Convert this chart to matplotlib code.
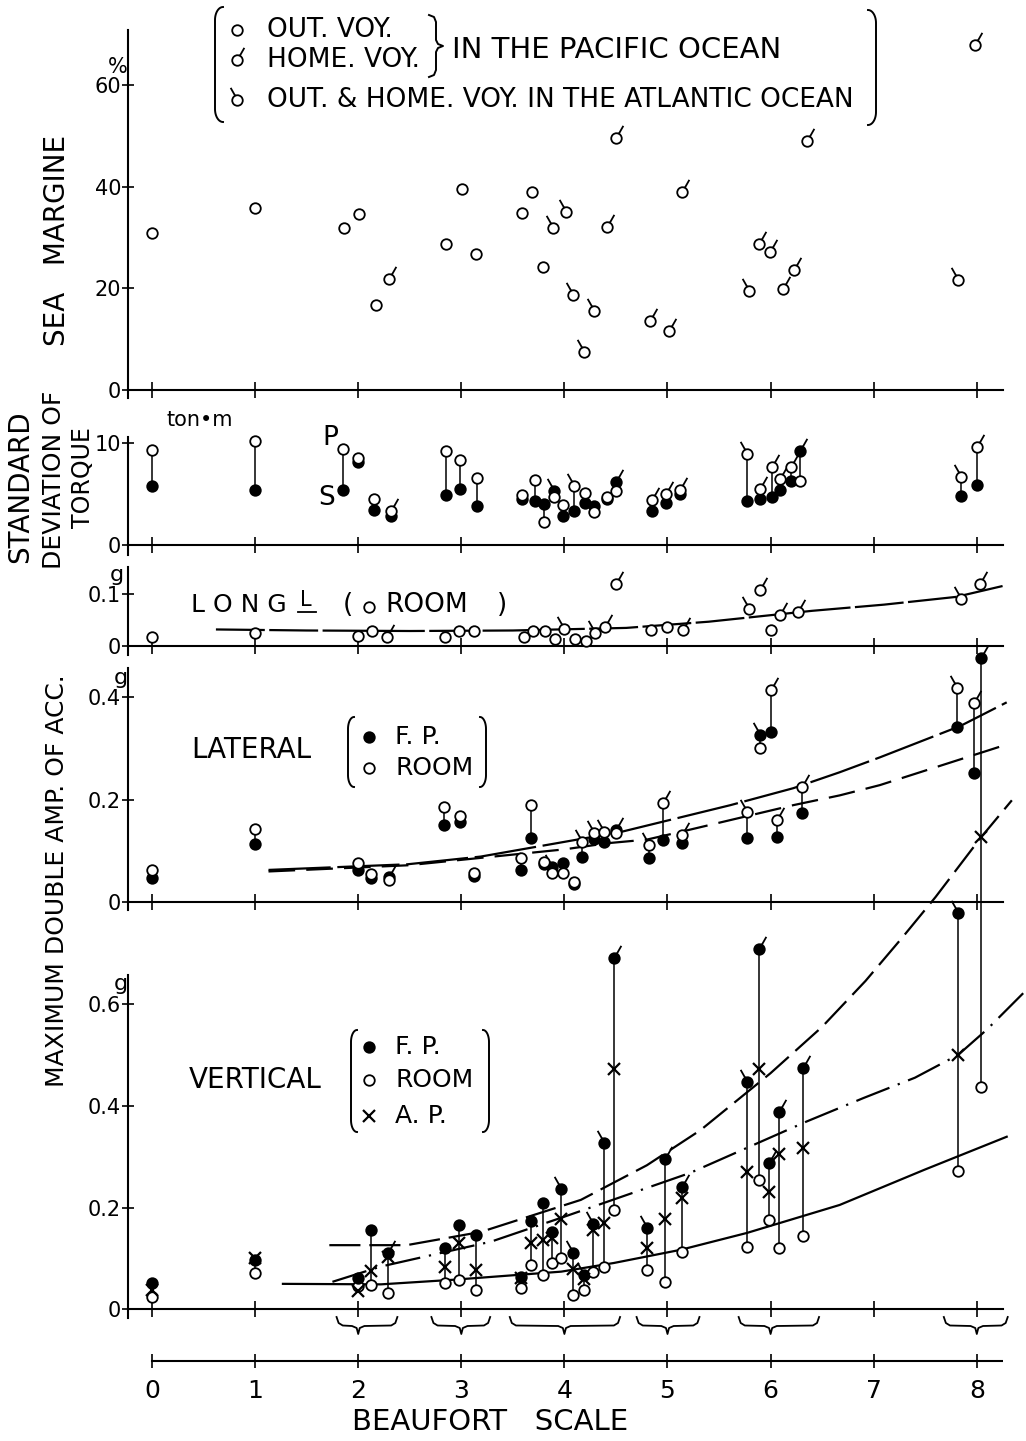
import numpy as np
import matplotlib
matplotlib.use("Agg")
import matplotlib.pyplot as plt
from matplotlib.path import Path

plt.rcParams["font.family"] = ["DejaVu Sans"]

# ---------------- data ----------------
beaufort_ticks = list(range(9))

# sea margin (%) ; o = outward (Pacific), h = homeward (Pacific), a = Atlantic
sm_beaufort = [0.00, 1.00, 1.86, 2.01, 2.17, 2.30, 2.85, 3.01, 3.14, 3.59,
               3.69, 3.79, 3.89, 4.02, 4.08, 4.19, 4.29, 4.41, 4.50, 4.83,
               5.01, 5.14, 5.79, 5.89, 5.99, 6.12, 6.23, 6.35, 7.82, 7.98]
sm_margin = [30.8, 35.9, 31.9, 34.6, 16.7, 21.9, 28.7, 39.6, 26.8, 34.8,
             39.0, 24.1, 31.9, 35.0, 18.7, 7.5, 15.5, 32.1, 49.5, 13.6,
             11.7, 38.9, 19.5, 28.7, 27.1, 19.8, 23.6, 49.0, 21.7, 67.9]
sm_voyage = list("ooooohooooooaaaaahhhhhahhhhhah")

# standard deviation of torque (ton.m), port (P) / starboard (S)
tq_beaufort = [0.00, 1.00, 1.85, 2.00, 2.15, 2.32, 2.85, 2.99, 3.15, 3.59,
               3.71, 3.80, 3.90, 3.99, 4.09, 4.20, 4.29, 4.41, 4.50, 4.85,
               4.99, 5.12, 5.77, 5.90, 6.01, 6.09, 6.20, 6.29, 7.85, 8.00]
tq_port = [9.35, 10.2, 9.45, 8.5, 4.55, 3.3, 9.2, 8.3, 6.6, 4.9,
           6.4, 2.25, 4.7, 3.9, 5.8, 5.1, 3.2, 4.7, 5.3, 4.4,
           5.0, 5.4, 8.9, 5.5, 7.6, 6.5, 7.6, 6.3, 6.7, 9.6]
tq_stbd = [5.77, 5.4, 5.4, 8.1, 3.45, 2.8, 4.95, 5.5, 3.8, 4.5,
           4.3, 4.0, 5.3, 2.8, 3.3, 4.1, 3.8, 4.5, 6.2, 3.3,
           4.1, 5.0, 4.3, 4.5, 4.7, 5.4, 6.3, 9.2, 4.8, 5.9]
tq_voyage = list("ooooohooooooaoaooohhhhahhhhhah")

# longitudinal acceleration in the room (g)
lg_beaufort = [0.00, 1.00, 2.00, 2.13, 2.28, 2.84, 2.98, 3.12, 3.61, 3.70,
               3.81, 3.91, 4.00, 4.10, 4.21, 4.30, 4.39, 4.50, 4.84, 5.00,
               5.15, 5.79, 5.90, 6.00, 6.09, 6.27, 7.85, 8.03]
lg_room = [0.017, 0.026, 0.019, 0.029, 0.018, 0.017, 0.029, 0.029, 0.017, 0.029,
           0.029, 0.013, 0.033, 0.014, 0.010, 0.025, 0.037, 0.120, 0.031, 0.037,
           0.031, 0.071, 0.108, 0.031, 0.059, 0.066, 0.090, 0.119]
lg_voyage = list("oooohooooooo" + "aooahhoohahohhah")
lg_trend_b = [0.62, 1.50, 2.50, 3.50, 4.60, 5.40, 6.40, 7.10, 7.80, 8.25]
lg_trend_v = [0.032, 0.030, 0.029, 0.030, 0.035, 0.047, 0.068, 0.080, 0.095, 0.116]

# lateral acceleration (g), fore peak / room
lt_beaufort = [0.00, 1.00, 2.00, 2.12, 2.30, 2.83, 2.99, 3.12, 3.58, 3.68,
               3.80, 3.88, 3.99, 4.09, 4.17, 4.29, 4.38, 4.50, 4.82, 4.96,
               5.14, 5.77, 5.90, 6.00, 6.06, 6.30, 7.81, 7.97]
lt_fp = [0.047, 0.113, 0.063, 0.048, 0.050, 0.150, 0.157, 0.052, 0.063, 0.125,
         0.074, 0.069, 0.076, 0.035, 0.088, 0.123, 0.118, 0.141, 0.086, 0.121,
         0.115, 0.125, 0.326, 0.332, 0.128, 0.173, 0.342, 0.251]
lt_room = [0.063, 0.142, 0.077, 0.055, 0.043, 0.186, 0.167, 0.057, 0.086, 0.189,
           0.078, 0.057, 0.057, 0.040, 0.118, 0.135, 0.137, 0.135, 0.111, 0.193,
           0.131, 0.176, 0.301, 0.414, 0.161, 0.225, 0.416, 0.387]
lt_voyage = list("oooohoooooo" + "aooaaahahhaahhhah")
lt_upper_b = [1.13, 2.48, 3.19, 4.04, 4.55, 5.61, 6.22, 6.67, 7.06, 7.84, 8.29]
lt_upper_v = [0.063, 0.074, 0.089, 0.119, 0.137, 0.189, 0.222, 0.253, 0.282, 0.343, 0.389]
lt_lower_b = [1.13, 2.48, 4.00, 4.42, 4.80, 5.19, 6.22, 6.67, 7.06, 8.29]
lt_lower_v = [0.060, 0.072, 0.103, 0.115, 0.122, 0.140, 0.189, 0.208, 0.228, 0.307]

# vertical acceleration (g), fore peak / aft peak / room
vt_beaufort = [0.00, 1.00, 2.00, 2.12, 2.29, 2.84, 2.98, 3.14, 3.58, 3.68,
               3.79, 3.88, 3.97, 4.08, 4.19, 4.28, 4.38, 4.48, 4.80, 4.98,
               5.14, 5.77, 5.89, 5.98, 6.08, 6.31, 7.82, 8.04]
vt_fp = [0.052, 0.097, 0.062, 0.156, 0.110, 0.120, 0.166, 0.146, 0.064, 0.174,
         0.208, 0.152, 0.236, 0.111, 0.067, 0.168, 0.326, 0.690, 0.159, 0.295,
         0.241, 0.447, 0.707, 0.288, 0.388, 0.475, 0.778, 1.279]
vt_ap = [0.038, 0.100, 0.035, 0.076, 0.103, 0.084, 0.131, 0.077, 0.062, 0.131,
         0.136, 0.140, 0.177, 0.079, 0.060, 0.156, 0.169, 0.473, 0.120, 0.177,
         0.218, 0.270, 0.473, 0.231, 0.306, 0.316, 0.500, 0.927]
vt_room = [0.025, 0.071, 0.045, 0.048, 0.033, 0.052, 0.058, 0.038, 0.041, 0.088,
           0.067, 0.090, 0.100, 0.028, 0.037, 0.074, 0.084, 0.195, 0.077, 0.054,
           0.113, 0.122, 0.254, 0.175, 0.120, 0.144, 0.272, 0.437]
vt_voyage = list("oooohooooooo" + "aaaaahahhahhhhah")
vt_fp_trend_b = [1.72, 2.47, 3.19, 4.16, 4.80, 5.32, 6.00, 6.50, 6.92, 7.28, 7.60, 8.04, 8.34]
vt_fp_trend_v = [0.126, 0.126, 0.152, 0.215, 0.283, 0.352, 0.464, 0.555, 0.645, 0.731, 0.810, 0.927, 1.000]
vt_ap_trend_b = [1.75, 2.22, 3.29, 4.00, 5.22, 6.35, 6.90, 7.40, 7.82, 8.10, 8.45]
vt_ap_trend_v = [0.054, 0.084, 0.133, 0.182, 0.268, 0.369, 0.415, 0.455, 0.500, 0.550, 0.621]
vt_room_trend_b = [1.27, 2.22, 2.92, 3.97, 4.48, 5.13, 5.77, 6.67, 7.49, 8.29]
vt_room_trend_v = [0.050, 0.049, 0.058, 0.074, 0.091, 0.117, 0.150, 0.205, 0.274, 0.339]

# groups of Beaufort ranges marked with braces under the chart
group_spans = [(1.79, 2.38), (2.71, 3.28), (3.47, 4.54), (4.70, 5.31), (5.69, 6.47), (7.68, 8.30)]
group_centres = [2, 3, 4, 5, 6, 8]

# ---------------- layout ----------------
W, H = 1026, 1441
LEFT_PX, RIGHT_PX = 128, 1003
B0_PX, B_STEP = 152, 103.1
XLIM = ((LEFT_PX - B0_PX) / B_STEP, (RIGHT_PX - B0_PX) / B_STEP)

fig = plt.figure(figsize=(W / 100, H / 100), dpi=100)

# full-figure overlay in pixel units for labels and legend brackets
ov = fig.add_axes([0, 0, 1, 1])
ov.set_xlim(0, W)
ov.set_ylim(H, 0)
ov.axis("off")


def add_panel(top, bottom, zero, scale, yticks, ylabels):
    ax = fig.add_axes([LEFT_PX / W, 1 - bottom / H, (RIGHT_PX - LEFT_PX) / W, (bottom - top) / H])
    ax.set_xlim(XLIM)
    ax.set_ylim((zero - bottom) / scale, (zero - top) / scale)
    ax.patch.set_visible(False)
    for s in ("top", "right"):
        ax.spines[s].set_visible(False)
    ax.spines["bottom"].set_position(("data", 0))
    for s in ("left", "bottom"):
        ax.spines[s].set_linewidth(1.5)
    ax.set_xticks(beaufort_ticks)
    ax.tick_params(axis="x", direction="inout", length=11, width=1.2, labelbottom=False)
    ax.set_yticks(yticks)
    ax.set_yticklabels(ylabels)
    ax.tick_params(axis="y", direction="inout", length=8, width=1.2, labelsize=15, pad=1)
    return ax


def tail_marker(direction):
    tail = Path([(0.45 * direction, 0.9), (1.3 * direction, 2.4)], [Path.MOVETO, Path.LINETO])
    return Path.make_compound_path(Path.unit_circle(), tail)


MARKERS = {"o": ("o", 7.6), "h": (tail_marker(1), 18.2), "a": (tail_marker(-1), 18.2)}


def draw_point(ax, x, y, kind, filled, z=4):
    marker, size = MARKERS[kind]
    ax.plot([x], [y], ls="none", marker=marker, ms=size, mfc="black" if filled else "white",
            mec="black", mew=1.3, clip_on=False, zorder=z)


def draw_pairs(ax, xs, open_vals, filled_vals, kinds):
    for x, o, f, k in zip(xs, open_vals, filled_vals, kinds):
        ax.vlines(x, min(o, f), max(o, f), color="black", lw=1.1, zorder=2, clip_on=False)
        draw_point(ax, x, f, k if f >= o else "o", True)
        draw_point(ax, x, o, k if o > f else "o", False, z=5)


def paren(x, y0, y1, side, rx=8, ry=13):
    t = np.linspace(np.pi / 2, np.pi, 15)
    top_x = x + side * (rx + rx * np.cos(t))
    top_y = y0 + ry - ry * np.sin(t)
    bot_x = top_x[::-1]
    bot_y = y1 - ry + ry * np.sin(t[::-1])
    ov.plot(np.r_[top_x, bot_x], np.r_[top_y, bot_y], color="black", lw=1.4)


def curly(x, y0, y1, w=14):
    ym = (y0 + y1) / 2
    xs = [x, x + 5, x + 7, x + 7, x + 9, x + w, x + 9, x + 7, x + 7, x + 5, x]
    ys = [y0, y0 + 2, y0 + 7, ym - 6, ym - 2, ym, ym + 2, ym + 6, y1 - 7, y1 - 2, y1]
    ov.plot(xs, ys, color="black", lw=1.4)


# ---------------- sea margin ----------------
ax_sm = add_panel(30, 398, 390, 5.083, [0, 20, 40, 60], ["0", "20", "40", "60"])
for b, v, k in zip(sm_beaufort, sm_margin, sm_voyage):
    draw_point(ax_sm, b, v, k, False)

# ---------------- torque ----------------
ax_tq = add_panel(437, 555, 545, 10.2, [0, 10], ["0", "10"])
draw_pairs(ax_tq, tq_beaufort, tq_port, tq_stbd, tq_voyage)

# ---------------- longitudinal ----------------
ax_lg = add_panel(567, 655, 646, 517, [0, 0.1], ["0", "0.1"])
ax_lg.plot(lg_trend_b, lg_trend_v, color="black", lw=1.6, ls=(0, (22, 2)), zorder=1, clip_on=False)
for b, v, k in zip(lg_beaufort, lg_room, lg_voyage):
    draw_point(ax_lg, b, v, k, False)

# ---------------- lateral ----------------
ax_lt = add_panel(668, 910, 902.3, 514, [0, 0.2, 0.4], ["0", "0.2", "0.4"])
ax_lt.plot(lt_upper_b, lt_upper_v, color="black", lw=1.6, ls=(0, (28, 3)), zorder=1, clip_on=False)
ax_lt.plot(lt_lower_b, lt_lower_v, color="black", lw=1.6, ls=(0, (12, 5)), zorder=1, clip_on=False)
draw_pairs(ax_lt, lt_beaufort, lt_room, lt_fp, lt_voyage)

# ---------------- vertical ----------------
ax_vt = add_panel(975, 1318, 1309.3, 509, [0, 0.2, 0.4, 0.6], ["0", "0.2", "0.4", "0.6"])
ax_vt.plot(vt_fp_trend_b, vt_fp_trend_v, color="black", lw=1.6, ls=(0, (14, 4)), zorder=1, clip_on=False)
ax_vt.plot(vt_ap_trend_b, vt_ap_trend_v, color="black", lw=1.6, ls=(0, (16, 4, 1, 4)), zorder=1, clip_on=False)
ax_vt.plot(vt_room_trend_b, vt_room_trend_v, color="black", lw=1.6, zorder=1, clip_on=False)
for b, f, a, r, k in zip(vt_beaufort, vt_fp, vt_ap, vt_room, vt_voyage):
    ax_vt.vlines(b, min(f, a, r), max(f, a, r), color="black", lw=1.1, zorder=2, clip_on=False)
    top = max(f, a, r)
    draw_point(ax_vt, b, r, k if r == top else "o", False)
    draw_point(ax_vt, b, f, k if f == top else "o", True)
    ax_vt.plot([b], [a], ls="none", marker="x", ms=9, mew=1.6, color="black", zorder=6, clip_on=False)

# ---------------- Beaufort scale with group braces ----------------
ax_bs = fig.add_axes([LEFT_PX / W, 0, (RIGHT_PX - LEFT_PX) / W, (H - 1310) / H])
ax_bs.set_xlim(XLIM)
ax_bs.set_ylim(H, 1310)
ax_bs.axis("off")
ax_bs.plot([0, XLIM[1]], [1361, 1361], color="black", lw=1.5)
ax_bs.vlines(beaufort_ticks, 1354, 1368, color="black", lw=1.2)
for b in beaufort_ticks:
    ax_bs.text(b, 1391, str(b), ha="center", va="center", fontsize=18)
for (a, c), m in zip(group_spans, group_centres):
    xs = [a, a + 0.02, a + 0.06, m - 0.06, m - 0.015, m, m + 0.015, m + 0.06, c - 0.06, c - 0.02, c]
    ys = [1317, 1323, 1325.5, 1326, 1328, 1334, 1328, 1326, 1325.5, 1323, 1317]
    ax_bs.plot(xs, ys, color="black", lw=1.3, clip_on=False)

# ---------------- labels ----------------
ov.text(490, 1422, "BEAUFORT   SCALE", ha="center", va="center", fontsize=21)
ov.text(57, 240, "SEA   MARGINE", rotation=90, ha="center", va="center", fontsize=20)
ov.text(20, 487, "STANDARD", rotation=90, ha="center", va="center", fontsize=20)
ov.text(54, 480, "DEVIATION OF", rotation=90, ha="center", va="center", fontsize=18)
ov.text(83, 478, "TORQUE", rotation=90, ha="center", va="center", fontsize=17)
ov.text(57, 881, "MAXIMUM DOUBLE AMP. OF ACC.", rotation=90, ha="center", va="center", fontsize=18)

ov.text(118, 67, "%", ha="center", va="center", fontsize=15)
ov.text(200, 420, "ton\u2022m", ha="center", va="center", fontsize=15)
ov.text(330, 438, "P", ha="center", va="center", fontsize=19)
ov.text(327, 498, "S", ha="center", va="center", fontsize=19)
for gx, gy in [(117, 575), (121, 678), (121, 984)]:
    ov.text(gx, gy, "g", ha="center", va="center", fontsize=16)

# legend of voyages
paren(215, 7, 122, 1)
paren(876, 10, 125, -1)
for y, k, label in [(30, "o", "OUT. VOY."), (60, "h", "HOME. VOY."),
                    (100, "a", "OUT. & HOME. VOY. IN THE ATLANTIC OCEAN")]:
    draw_point(ov, 237, y, k, False)
    ov.text(267, y, label, ha="left", va="center", fontsize=19)
curly(429, 15, 77)
ov.text(452, 50, "IN THE PACIFIC OCEAN", ha="left", va="center", fontsize=21)

# longitudinal label
ov.text(191, 605, "L O N G", ha="left", va="center", fontsize=18)
ov.text(300, 600, "L", ha="left", va="center", fontsize=15)
ov.plot([298, 316], [612, 612], color="black", lw=1.3)
ov.text(343, 605, "(", ha="left", va="center", fontsize=19)
draw_point(ov, 369, 607, "o", False)
ov.text(385, 605, "ROOM", ha="left", va="center", fontsize=19)
ov.text(497, 605, ")", ha="left", va="center", fontsize=19)

# lateral legend
ov.text(191, 750, "LATERAL", ha="left", va="center", fontsize=20)
paren(348, 717, 787, 1, rx=6, ry=12)
paren(486, 717, 787, -1, rx=6, ry=12)
draw_point(ov, 369, 737, "o", True)
draw_point(ov, 369, 768, "o", False)
ov.text(395, 737, "F. P.", ha="left", va="center", fontsize=18)
ov.text(395, 768, "ROOM", ha="left", va="center", fontsize=18)

# vertical legend
ov.text(189, 1080, "VERTICAL", ha="left", va="center", fontsize=20)
paren(351, 1030, 1132, 1, rx=6, ry=12)
paren(489, 1030, 1132, -1, rx=6, ry=12)
draw_point(ov, 369, 1047, "o", True)
draw_point(ov, 369, 1080, "o", False)
ov.plot([369], [1116], ls="none", marker="x", ms=9, mew=1.6, color="black")
ov.text(395, 1047, "F. P.", ha="left", va="center", fontsize=18)
ov.text(395, 1080, "ROOM", ha="left", va="center", fontsize=18)
ov.text(395, 1116, "A. P.", ha="left", va="center", fontsize=18)

fig.savefig("out.png", dpi=100)
